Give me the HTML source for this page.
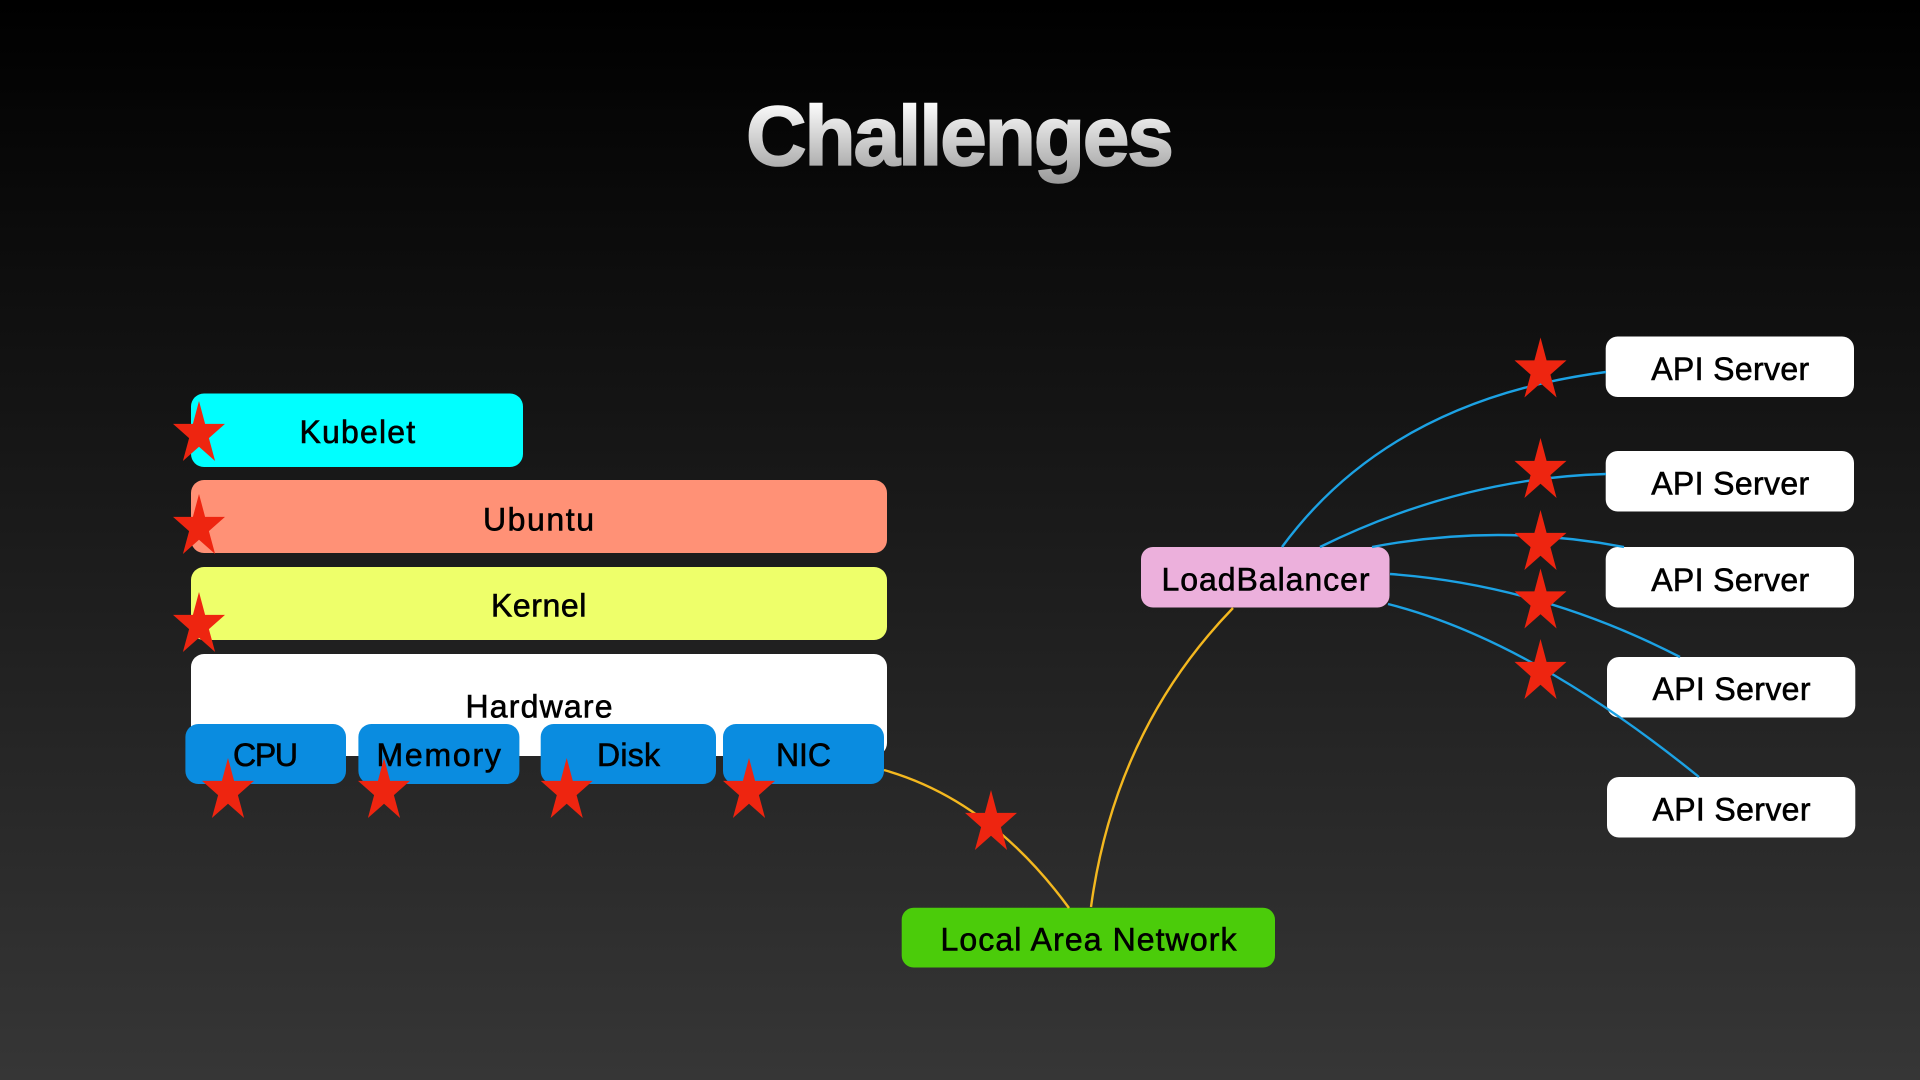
<!DOCTYPE html>
<html lang="en">
<head>
<meta charset="utf-8">
<title>Challenges</title>
<style>
html,body{margin:0;padding:0;width:1920px;height:1080px;overflow:hidden;background:#000}
svg{display:block}
text{font-family:"Liberation Sans",sans-serif;font-size:32px;fill:#000;stroke:#000;stroke-width:.6px}
.t{font-size:84px;font-weight:700;fill:url(#tg);stroke:url(#tg);stroke-width:1.6px}
.c{fill:none;stroke-width:2.4px}
.b{stroke:#1ca2e4}
.g{stroke:#f4b81f}
</style>
</head>
<body>
<svg width="1920" height="1080" viewBox="0 0 1920 1080" xmlns="http://www.w3.org/2000/svg">
<defs>
<linearGradient id="bg" x1="0" y1="0" x2="0" y2="1">
<stop offset="0" stop-color="#000"/>
<stop offset="1" stop-color="#363636"/>
</linearGradient>
<linearGradient id="tg" gradientUnits="userSpaceOnUse" x1="0" y1="100" x2="0" y2="182">
<stop offset="0" stop-color="#ffffff"/>
<stop offset="1" stop-color="#9c9c9c"/>
</linearGradient>
<polygon id="s" fill="#ee2510" points="26,0 32.1,22.9 52,22.9 35.9,37.1 42.1,60 26,45.8 9.9,60 16.1,37.1 0,22.9 19.9,22.9"/>
</defs>
<rect width="1920" height="1080" fill="url(#bg)"/>

<text class="t" x="746" y="165" textLength="428" lengthAdjust="spacing">Challenges</text>

<!-- left stack -->
<rect x="191" y="393.5" width="332" height="73.5" rx="13" fill="#00ffff"/>
<rect x="191" y="480" width="696" height="73" rx="13" fill="#ff9176"/>
<rect x="191" y="567" width="696" height="73" rx="13" fill="#eeff6a"/>
<rect x="191" y="654" width="696" height="102" rx="13" fill="#ffffff"/>
<rect x="185.4" y="724" width="160.6" height="60" rx="13" fill="#0a8ce0"/>
<rect x="358.4" y="724" width="161" height="60" rx="13" fill="#0a8ce0"/>
<rect x="540.7" y="724" width="175.3" height="60" rx="13" fill="#0a8ce0"/>
<rect x="723" y="724" width="161" height="60" rx="13" fill="#0a8ce0"/>

<text x="299.5" y="443" textLength="115.6" lengthAdjust="spacing">Kubelet</text>
<text x="483" y="530.7" textLength="111" lengthAdjust="spacing">Ubuntu</text>
<text x="491" y="616.7" textLength="95.3" lengthAdjust="spacing">Kernel</text>
<text x="465.5" y="717.7" textLength="147" lengthAdjust="spacing">Hardware</text>
<text x="233" y="766" textLength="65" lengthAdjust="spacing">CPU</text>
<text x="376.5" y="766" textLength="124.4" lengthAdjust="spacing">Memory</text>
<text x="597" y="766" textLength="63" lengthAdjust="spacing">Disk</text>
<text x="776" y="766" textLength="55" lengthAdjust="spacing">NIC</text>

<!-- right side boxes -->
<rect x="1605.7" y="336.5" width="248.3" height="60.5" rx="12" fill="#fff"/>
<rect x="1605.7" y="451" width="248.3" height="60.5" rx="12" fill="#fff"/>
<rect x="1605.7" y="547" width="248.3" height="60.5" rx="12" fill="#fff"/>
<rect x="1607" y="657" width="248.3" height="60.5" rx="12" fill="#fff"/>
<rect x="1607" y="777" width="248.3" height="60.5" rx="12" fill="#fff"/>
<rect x="1141" y="547" width="248.5" height="60.5" rx="12" fill="#ecb0dc"/>
<rect x="901.7" y="907.7" width="373.3" height="59.8" rx="12" fill="#4bcc0a"/>

<text x="1651.2" y="380" textLength="158" lengthAdjust="spacing">API Server</text>
<text x="1651.2" y="494.6" textLength="158" lengthAdjust="spacing">API Server</text>
<text x="1651.2" y="591" textLength="158" lengthAdjust="spacing">API Server</text>
<text x="1652.5" y="700" textLength="158" lengthAdjust="spacing">API Server</text>
<text x="1652.5" y="820.5" textLength="158" lengthAdjust="spacing">API Server</text>
<text x="1161.5" y="590.3" textLength="208" lengthAdjust="spacing">LoadBalancer</text>
<text x="940.5" y="950.7" textLength="296" lengthAdjust="spacing">Local Area Network</text>

<!-- connectors -->
<path class="c b" d="M1282 547 Q1390 400 1606 372"/>
<path class="c b" d="M1320 547 Q1460 478 1606 474"/>
<path class="c b" d="M1372 547 Q1498 523 1624 547"/>
<path class="c b" d="M1390 574 Q1540 585 1680 657"/>
<path class="c b" d="M1388 604 Q1530 640 1699 777"/>
<path class="c g" d="M884 770 Q990 800 1069 908"/>
<path class="c g" d="M1091 907 Q1115 730 1233 608"/>

<!-- stars -->
<use href="#s" x="173" y="401"/>
<use href="#s" x="173" y="494"/>
<use href="#s" x="173" y="592"/>
<use href="#s" x="202" y="758"/>
<use href="#s" x="358" y="758"/>
<use href="#s" x="540.7" y="758"/>
<use href="#s" x="723" y="758"/>
<use href="#s" x="965" y="790"/>
<use href="#s" x="1514.5" y="337.5"/>
<use href="#s" x="1514.5" y="438"/>
<use href="#s" x="1514.5" y="510"/>
<use href="#s" x="1514.5" y="568.5"/>
<use href="#s" x="1514.5" y="639"/>
</svg>
</body>
</html>
